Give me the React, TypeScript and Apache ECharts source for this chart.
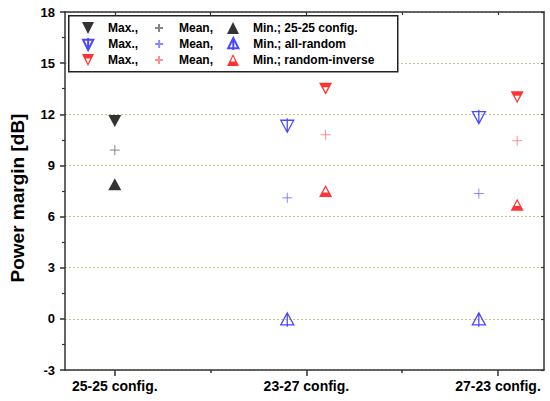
import React, { useEffect, useRef } from "react";
import * as echarts from "echarts";

// ---- data ----
const categories = ["25-25 config.", "23-27 config.", "27-23 config."];
const yTicks = [-3, 0, 3, 6, 9, 12, 15, 18];

// 25-25 config. (category 0)
const cfgCats = [0];
const cfgMax = [11.6];
const cfgMean = [9.9];
const cfgMin = [7.9];

// all-random (categories 1, 2)
const rndCats = [1, 2];
const rndMax = [11.3, 11.8];
const rndMean = [7.1, 7.35];
const rndMin = [0, 0];

// random-inverse (categories 1, 2)
const invCats = [1, 2];
const invMax = [13.5, 13.0];
const invMean = [10.8, 10.45];
const invMin = [7.5, 6.7];

const RND_SHIFT = -0.1;
const INV_SHIFT = 0.1;

const legendLabels: Record<string, string> = {
  cfgMax: "Max.,",
  cfgMean: "Mean,",
  cfgMin: "Min.; 25-25 config.",
  rndMax: "Max.,",
  rndMean: "Mean,",
  rndMin: "Min.; all-random",
  invMax: "Max.,",
  invMean: "Mean,",
  invMin: "Min.; random-inverse",
};

// ---- symbols ----
const TRI_DOWN = "path://M0 0L12 0L6 12Z";
const TRI_UP = "path://M6 0L12 12L0 12Z";
const TRI_DOWN_STEM = "path://M0 2L12 2L6 14ZM6 0L6 14";
const TRI_UP_STEM = "path://M6 0L12 12L0 12ZM6 0L6 14";
const TRI_DOWN_HALF = "path://M0 0L12 0L6 12ZM3.7 4.6L6 9.4L8.3 4.6Z";
const TRI_UP_HALF = "path://M6 0L12 12L0 12ZM6 2.6L3.7 7.4L8.3 7.4Z";
const PLUS = "path://M5 0L5 10M0 5L10 5";
const PLUS_LEGEND = "path://M0 0L0 0M12 12L12 12M6 2L6 10M2 6L10 6";

const FONT = "'Liberation Sans', Arial, sans-serif";
const BLUE = "#1a1aff";
const RED = "#ff0000";

function pts(cats: number[], vals: number[], shift: number) {
  return vals.map((v, i) => [cats[i] + shift, v]);
}

export default function App() {
  const ref = useRef<HTMLDivElement>(null);

  useEffect(() => {
    if (!ref.current) return;
    const chart = echarts.init(ref.current, undefined, { renderer: "svg" });

    const filled = (name: string, data: number[][], symbol: string, color: string, size: number[]) => ({
      name,
      type: "scatter",
      data,
      symbol,
      symbolSize: size,
      itemStyle: { color, borderWidth: 0 },
      z: 3,
    });
    const outline = (name: string, data: number[][], symbol: string, color: string, size: number[], offset: number[] = [0, 0], bw = 1.3) => ({
      name,
      type: "scatter",
      data,
      symbol,
      symbolSize: size,
      symbolOffset: offset,
      itemStyle: { color: "rgba(0,0,0,0)", borderColor: color, borderWidth: bw },
      z: 3,
    });

    const legendRow = (names: string[], top: number) => ({
      data: [names[0], { name: names[1], icon: PLUS_LEGEND }, names[2]],
      top,
      left: 82,
      orient: "horizontal",
      padding: 0,
      itemGap: 14,
      itemWidth: 12,
      itemHeight: 12,
      selectedMode: false,
      formatter: (n: string) => legendLabels[n] || n,
      textStyle: {
        fontFamily: FONT,
        fontWeight: "bold",
        fontSize: 12,
        color: "#000",
        padding: [0, 0, 0, 9],
      },
    });

    const axisLine = { show: true, onZero: false, lineStyle: { color: "#333", width: 1.5 } };

    chart.setOption({
      animation: false,
      backgroundColor: "#fff",
      grid: { left: 63, right: 6, top: 12, bottom: 31 },
      xAxis: [
        {
          type: "value",
          min: -0.26,
          max: 2.24,
          position: "bottom",
          axisLine,
          splitLine: { show: false },
          axisTick: { show: true, length: 6, customValues: [0, 1, 2], lineStyle: { color: "#333", width: 1.5 } },
          axisLabel: {
            customValues: [0, 1, 2],
            formatter: (v: number) => categories[Math.round(v)] ?? "",
            fontFamily: FONT,
            fontWeight: "bold",
            fontSize: 14,
            color: "#000",
            margin: 9,
          },
        },
        {
          type: "value",
          min: -0.26,
          max: 2.24,
          position: "bottom",
          axisLine: { show: false, onZero: false },
          splitLine: { show: false },
          axisTick: { show: true, length: 3, customValues: [0.5, 1.5], lineStyle: { color: "#333", width: 1.5 } },
          axisLabel: { show: false },
        },
        {
          type: "value",
          min: -0.26,
          max: 2.24,
          position: "top",
          axisLine,
          splitLine: { show: false },
          axisTick: { show: true, inside: true, length: 3, customValues: [0, 0.5, 1, 1.5, 2], lineStyle: { color: "#333", width: 1.2 } },
          axisLabel: { show: false },
        },
      ],
      yAxis: [
        {
          type: "value",
          min: yTicks[0],
          max: yTicks[yTicks.length - 1],
          interval: 3,
          position: "left",
          name: "Power margin [dB]",
          nameLocation: "middle",
          nameGap: 38,
          nameTextStyle: { fontFamily: FONT, fontWeight: "bold", fontSize: 19, color: "#000", padding: [0, 14, 0, 0] },
          axisLine,
          axisTick: { show: true, length: 5, lineStyle: { color: "#333", width: 1.5 } },
          minorTick: { show: true, splitNumber: 2, length: 3, lineStyle: { color: "#333", width: 1.2 } },
          splitLine: { show: true, lineStyle: { color: "#c6c683", type: [2, 2], width: 1 } },
          axisLabel: { fontFamily: FONT, fontWeight: "bold", fontSize: 13, color: "#000", margin: 10 },
        },
        {
          type: "value",
          min: yTicks[0],
          max: yTicks[yTicks.length - 1],
          interval: 3,
          position: "right",
          axisLine,
          axisTick: { show: true, inside: true, length: 3, lineStyle: { color: "#333", width: 1.2 } },
          splitLine: { show: false },
          axisLabel: { show: false },
        },
      ],
      legend: [
        legendRow(["cfgMax", "cfgMean", "cfgMin"], 21),
        legendRow(["rndMax", "rndMean", "rndMin"], 37),
        legendRow(["invMax", "invMean", "invMin"], 53),
      ],
      graphic: [
        {
          type: "rect",
          left: 68,
          top: 15,
          z: 1,
          shape: { width: 329, height: 56 },
          style: { fill: "#fff", stroke: "#222", lineWidth: 1.5 },
        },
      ],
      series: [
        filled("cfgMax", pts(cfgCats, cfgMax, 0), TRI_DOWN, "#000", [13, 12]),
        outline("cfgMean", pts(cfgCats, cfgMean, 0), PLUS, "#666", [10, 10], [0, 0], 1),
        filled("cfgMin", pts(cfgCats, cfgMin, 0), TRI_UP, "#000", [13, 12]),
        outline("rndMax", pts(rndCats, rndMax, RND_SHIFT), TRI_DOWN_STEM, BLUE, [13, 14], [0, -1]),
        outline("rndMean", pts(rndCats, rndMean, RND_SHIFT), PLUS, "#6a6aff", [10, 10], [0, 0], 1),
        outline("rndMin", pts(rndCats, rndMin, RND_SHIFT), TRI_UP_STEM, BLUE, [13, 14], [0, 1]),
        filled("invMax", pts(invCats, invMax, INV_SHIFT), TRI_DOWN_HALF, RED, [13, 12]),
        outline("invMean", pts(invCats, invMean, INV_SHIFT), PLUS, "#ff7373", [10, 10], [0, 0], 1),
        filled("invMin", pts(invCats, invMin, INV_SHIFT), TRI_UP_HALF, RED, [13, 12]),
      ],
    });

    return () => chart.dispose();
  }, []);

  return <div ref={ref} style={{ width: 550, height: 401, position: "absolute", left: 0, top: 0 }} />;
}
